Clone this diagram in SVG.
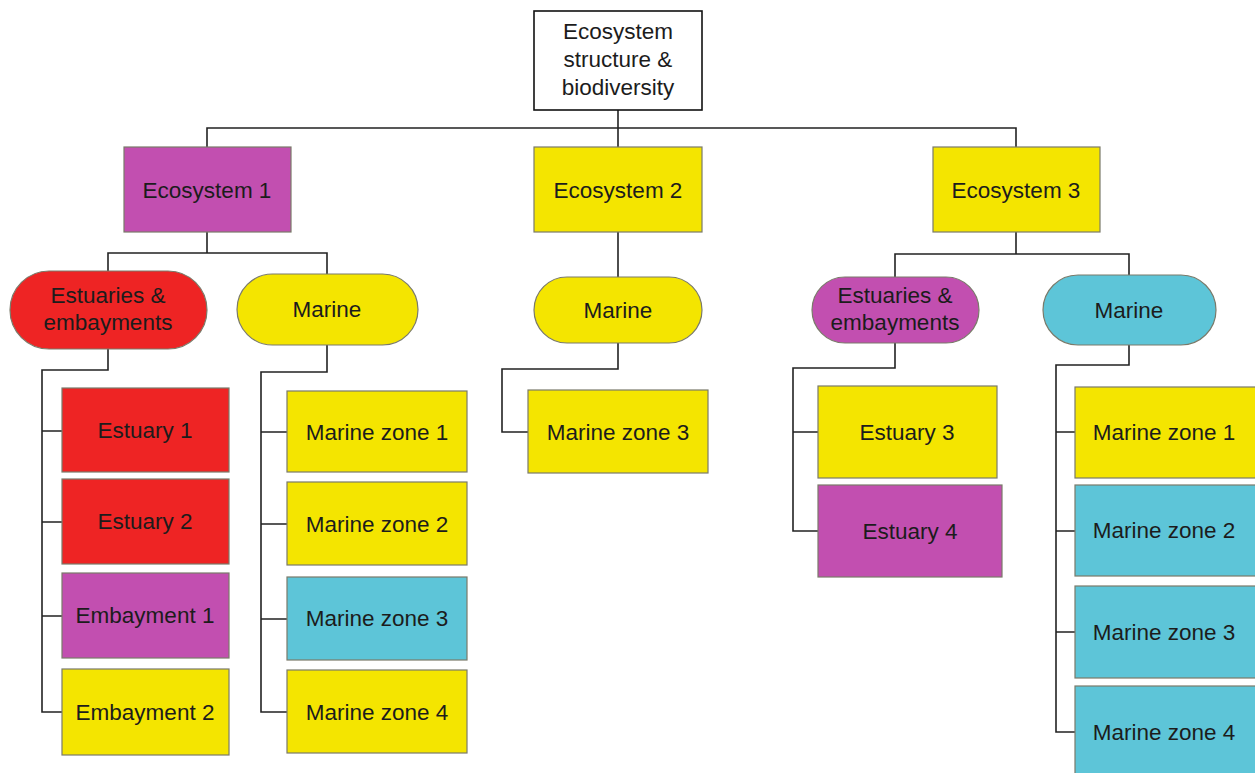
<svg xmlns="http://www.w3.org/2000/svg" width="1255" height="773" viewBox="0 0 1255 773">
  <style>
    .lbl { font-family: "Liberation Sans", Arial, sans-serif; font-size: 22.5px; fill: #1c1c1c; text-anchor: middle; }
    .node { stroke: #7a7a6a; stroke-width: 1.2; }
    .root { fill: #ffffff; stroke: #111111; stroke-width: 1.6; }
    .yellow { fill: #F4E500; }
    .red { fill: #EE2424; }
    .magenta { fill: #C24FB0; }
    .cyan { fill: #5DC5D8; }
    .conn { fill: none; stroke: #222222; stroke-width: 1.6; }
  </style>
  <rect width="1255" height="773" fill="#ffffff"/>

  <!-- connectors -->
  <g id="connectors" class="conn">
    <path d="M618 110 V128 M207 147 V128 H1016 V147 M618 128 V147"/>
    <!-- ecosystem 1 -->
    <path d="M207 232 V253 M108 271 V253 H327 V274"/>
    <path d="M108 349 V370 H42 V712 H62 M42 431 H62 M42 522 H62 M42 616 H62"/>
    <path d="M327 345 V372 H261 V712 H287 M261 432 H287 M261 524 H287 M261 619 H287"/>
    <!-- ecosystem 2 -->
    <path d="M618 232 V277 M618 343 V369 H502 V432 H528"/>
    <!-- ecosystem 3 -->
    <path d="M1016 232 V254 M895 277 V254 H1129 V275"/>
    <path d="M895 343 V368 H793 V531 H818 M793 432 H818"/>
    <path d="M1129 345 V365 H1056 V732 H1075 M1056 432 H1075 M1056 531 H1075 M1056 632 H1075"/>
  </g>

  <!-- root -->
  <g id="root">
    <rect class="root" x="534" y="11" width="168" height="99"/>
    <text class="lbl" x="618" y="39">Ecosystem</text>
    <text class="lbl" x="618" y="67">structure &amp;</text>
    <text class="lbl" x="618" y="95">biodiversity</text>
  </g>

  <!-- level 1 -->
  <g id="eco1">
    <rect class="node magenta" x="124" y="147" width="167" height="85"/>
    <text class="lbl" x="207" y="198">Ecosystem 1</text>
  </g>
  <g id="eco2">
    <rect class="node yellow" x="534" y="147" width="168" height="85"/>
    <text class="lbl" x="618" y="198">Ecosystem 2</text>
  </g>
  <g id="eco3">
    <rect class="node yellow" x="933" y="147" width="167" height="85"/>
    <text class="lbl" x="1016" y="198">Ecosystem 3</text>
  </g>

  <!-- level 2 -->
  <g id="eco1-estuaries">
    <rect class="node red" x="10" y="271" width="197" height="78" rx="39"/>
    <text class="lbl" x="108" y="303">Estuaries &amp;</text>
    <text class="lbl" x="108" y="330">embayments</text>
  </g>
  <g id="eco1-marine">
    <rect class="node yellow" x="237" y="274" width="181" height="71" rx="35.5"/>
    <text class="lbl" x="327" y="317">Marine</text>
  </g>
  <g id="eco2-marine">
    <rect class="node yellow" x="534" y="277" width="168" height="66" rx="33"/>
    <text class="lbl" x="618" y="318">Marine</text>
  </g>
  <g id="eco3-estuaries">
    <rect class="node magenta" x="812" y="277" width="167" height="66" rx="33"/>
    <text class="lbl" x="895" y="303">Estuaries &amp;</text>
    <text class="lbl" x="895" y="330">embayments</text>
  </g>
  <g id="eco3-marine">
    <rect class="node cyan" x="1043" y="275" width="173" height="70" rx="35"/>
    <text class="lbl" x="1129" y="318">Marine</text>
  </g>

  <!-- level 3: ecosystem 1 estuaries -->
  <g id="estuary1">
    <rect class="node red" x="62" y="388" width="167" height="84"/>
    <text class="lbl" x="145" y="438">Estuary 1</text>
  </g>
  <g id="estuary2">
    <rect class="node red" x="62" y="479" width="167" height="85"/>
    <text class="lbl" x="145" y="529">Estuary 2</text>
  </g>
  <g id="embayment1">
    <rect class="node magenta" x="62" y="573" width="167" height="85"/>
    <text class="lbl" x="145" y="623">Embayment 1</text>
  </g>
  <g id="embayment2">
    <rect class="node yellow" x="62" y="669" width="167" height="86"/>
    <text class="lbl" x="145" y="720">Embayment 2</text>
  </g>

  <!-- level 3: ecosystem 1 marine -->
  <g id="e1-mz1">
    <rect class="node yellow" x="287" y="391" width="180" height="81"/>
    <text class="lbl" x="377" y="440">Marine zone 1</text>
  </g>
  <g id="e1-mz2">
    <rect class="node yellow" x="287" y="482" width="180" height="83"/>
    <text class="lbl" x="377" y="532">Marine zone 2</text>
  </g>
  <g id="e1-mz3">
    <rect class="node cyan" x="287" y="577" width="180" height="83"/>
    <text class="lbl" x="377" y="626">Marine zone 3</text>
  </g>
  <g id="e1-mz4">
    <rect class="node yellow" x="287" y="670" width="180" height="83"/>
    <text class="lbl" x="377" y="720">Marine zone 4</text>
  </g>

  <!-- level 3: ecosystem 2 marine -->
  <g id="e2-mz3">
    <rect class="node yellow" x="528" y="390" width="180" height="83"/>
    <text class="lbl" x="618" y="440">Marine zone 3</text>
  </g>

  <!-- level 3: ecosystem 3 estuaries -->
  <g id="estuary3">
    <rect class="node yellow" x="818" y="386" width="179" height="92"/>
    <text class="lbl" x="907" y="440">Estuary 3</text>
  </g>
  <g id="estuary4">
    <rect class="node magenta" x="818" y="485" width="184" height="92"/>
    <text class="lbl" x="910" y="539">Estuary 4</text>
  </g>

  <!-- level 3: ecosystem 3 marine -->
  <g id="e3-mz1">
    <rect class="node yellow" x="1075" y="387" width="185" height="91"/>
    <text class="lbl" x="1164" y="440">Marine zone 1</text>
  </g>
  <g id="e3-mz2">
    <rect class="node cyan" x="1075" y="485" width="185" height="91"/>
    <text class="lbl" x="1164" y="538">Marine zone 2</text>
  </g>
  <g id="e3-mz3">
    <rect class="node cyan" x="1075" y="586" width="185" height="92"/>
    <text class="lbl" x="1164" y="640">Marine zone 3</text>
  </g>
  <g id="e3-mz4">
    <rect class="node cyan" x="1075" y="686" width="185" height="95"/>
    <text class="lbl" x="1164" y="740">Marine zone 4</text>
  </g>
</svg>
